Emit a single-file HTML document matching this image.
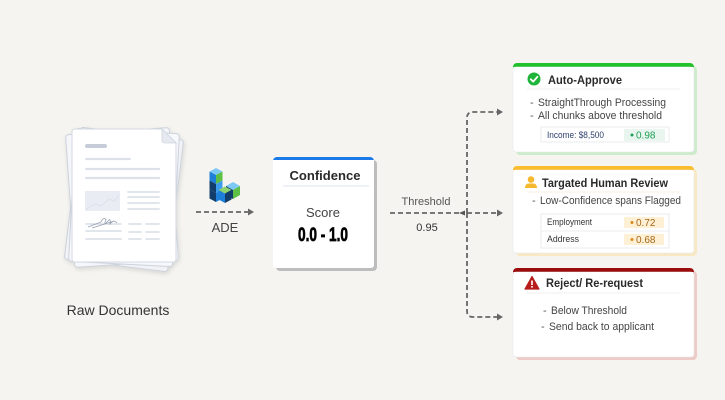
<!DOCTYPE html>
<html><head><meta charset="utf-8">
<style>
html,body{margin:0;padding:0;background:#f5f4f0;}
svg{display:block;}
text{font-family:"Liberation Sans",sans-serif;}
</style></head>
<body>
<svg width="725" height="400" viewBox="0 0 725 400" xmlns="http://www.w3.org/2000/svg">
<defs>
  <filter id="ds" x="-20%" y="-20%" width="140%" height="140%">
    <feDropShadow dx="1" dy="2" stdDeviation="2" flood-color="#000" flood-opacity="0.12"/>
  </filter>
</defs>
<rect width="725" height="400" fill="#f5f4f0"/>

<!-- Documents -->
<g filter="url(#ds)">
  <rect x="72" y="133" width="104" height="133" rx="3" fill="#f0f2f6" stroke="#ccd2dc" stroke-width="1" transform="rotate(7 124 199)"/>
  <rect x="70" y="131" width="104" height="133" rx="3" fill="#f4f6f9" stroke="#ccd2dc" stroke-width="1" transform="rotate(-4 122 197)"/>
  <rect x="72" y="131" width="104" height="133" rx="3" fill="#f7f8fb" stroke="#ccd2dc" stroke-width="1" transform="rotate(3 124 197)"/>
  <path d="M75,129 H162 L176,143 V259 Q176,262 173,262 H75 Q72,262 72,259 V132 Q72,129 75,129 Z" fill="#ffffff" stroke="#d5dae3" stroke-width="1"/>
  <path d="M162,129 V140 Q162,143 165,143 H176 Z" fill="#e6e9ef" stroke="#cfd5df" stroke-width="0.8"/>
</g>
<rect x="85" y="144" width="22" height="4" rx="2" fill="#c6cdd9"/>
<g stroke="#dde2ea" stroke-width="2.2" stroke-linecap="round">
  <line x1="86" y1="159" x2="130" y2="159"/>
  <line x1="86" y1="169" x2="159" y2="169"/>
  <line x1="86" y1="178" x2="159" y2="178"/>
</g>
<rect x="85" y="191" width="35" height="20" fill="#e9edf3"/>
<path d="M86,209 L95,204 L101,206 L109,199 L114,201 L119,195" fill="none" stroke="#dde3eb" stroke-width="1.2"/>
<g stroke="#dde2ea" stroke-width="1.8" stroke-linecap="round">
  <line x1="128" y1="192" x2="159" y2="192"/>
  <line x1="128" y1="197" x2="159" y2="197"/>
  <line x1="128" y1="203" x2="159" y2="203"/>
  <line x1="128" y1="209" x2="159" y2="209"/>
  <line x1="86" y1="224" x2="121" y2="224"/>
  <line x1="86" y1="231" x2="121" y2="231"/>
  <line x1="86" y1="239" x2="121" y2="239"/>
  <line x1="129" y1="224" x2="141" y2="224"/>
  <line x1="146" y1="224" x2="159" y2="224"/>
  <line x1="129" y1="232" x2="141" y2="232"/>
  <line x1="146" y1="232" x2="159" y2="232"/>
  <line x1="129" y1="239" x2="141" y2="239"/>
  <line x1="146" y1="239" x2="159" y2="239"/>
</g>
<path d="M88,227 Q96,224 101,222 Q104,216 106,220 Q103,226 108,221 Q111,217 110,224 Q114,219 117,223 M92,228 L114,221" fill="none" stroke="#98a1b2" stroke-width="0.8"/>
<text x="118" y="315" font-size="14" fill="#333" text-anchor="middle">Raw Documents</text>

<!-- ADE logo -->
<g>
  <!-- back right cube -->
  <polygon points="233,182 240,186 233,190 226,186" fill="#7dc8f5"/>
  <polygon points="226,186 233,190 233,199 226,195" fill="#123d6b"/>
  <polygon points="233,190 240,186 240,195 233,199" fill="#5dbf45"/>
  <!-- column -->
  <polygon points="216,168 222.5,171.5 216,175 209.5,171.5" fill="#7dc8f5"/>
  <polygon points="209.5,171.5 216,175 216,184 209.5,180.5" fill="#1e7fd9"/>
  <polygon points="216,175 222.5,171.5 222.5,180.5 216,184" fill="#5dbf45"/>
  <polygon points="209.5,180.5 216,184 216,193 209.5,189.5" fill="#123d6b"/>
  <polygon points="216,184 222.5,180.5 222.5,189.5 216,193" fill="#3d9ded"/>
  <polygon points="209.5,189.5 216,193 216,202 209.5,198.5" fill="#123d6b"/>
  <polygon points="216,193 222.5,189.5 222.5,198.5 216,202" fill="#1e7fd9"/>
  <!-- front right cube -->
  <polygon points="225,186.5 231.5,190 225,193.5 218.5,190" fill="#8fd46f"/>
  <polygon points="218.5,190 225,193.5 225,203 218.5,199.5" fill="#1e7fd9"/>
  <polygon points="225,193.5 231.5,190 231.5,199.5 225,203" fill="#123d6b"/>
</g>
<line x1="196" y1="212" x2="248" y2="212" stroke="#666" stroke-width="1.8" stroke-dasharray="5 3"/>
<polygon points="248,208.5 254,212 248,215.5" fill="#666"/>
<text x="225" y="232" font-size="13" fill="#444" text-anchor="middle">ADE</text>

<!-- Confidence card -->
<rect x="276" y="160" width="101" height="111" rx="4" fill="#bdbdbd"/>
<rect x="273" y="157" width="101" height="111" rx="4" fill="#1a7ae8"/>
<rect x="273" y="160" width="101" height="108" rx="3" fill="#ffffff"/>
<rect x="273" y="160" width="101" height="4" fill="#ffffff"/>
<text x="325" y="180" font-size="13" font-weight="bold" fill="#2a2a2a" text-anchor="middle" textLength="71" lengthAdjust="spacingAndGlyphs">Confidence</text>
<line x1="283" y1="186" x2="369" y2="186" stroke="#dde6f0" stroke-width="1"/>
<text x="323" y="217" font-size="13" fill="#444" text-anchor="middle">Score</text>
<text x="323" y="241" font-size="19" font-weight="bold" fill="#000" stroke="#000" stroke-width="0.7" text-anchor="middle" textLength="50" lengthAdjust="spacingAndGlyphs">0.0 - 1.0</text>

<!-- Threshold connectors -->
<g stroke="#666" stroke-width="1.8" stroke-dasharray="5 3" fill="none">
  <line x1="390" y1="213" x2="459" y2="213"/>
  <line x1="467" y1="213" x2="497" y2="213"/>
  <path d="M467,213 V118 Q467,112 473,112 H497"/>
  <path d="M467,213 V311 Q467,317 473,317 H497"/>
</g>
<polygon points="459,213 465,210.5 465,215.5" fill="#555"/>
<polygon points="497,108.5 503,112 497,115.5" fill="#666"/>
<polygon points="497,209.5 503,213 497,216.5" fill="#666"/>
<polygon points="497,313.5 503,317 497,320.5" fill="#666"/>
<text x="426" y="205" font-size="11" fill="#555" text-anchor="middle">Threshold</text>
<text x="427" y="231" font-size="11" fill="#333" text-anchor="middle">0.95</text>

<!-- Auto-Approve card -->
<rect x="516" y="66" width="181" height="89" rx="4" fill="#cdeccb"/>
<rect x="513" y="63" width="181" height="89" rx="4" fill="#22c02a"/>
<rect x="513" y="67" width="181" height="85" rx="3" fill="#ffffff" stroke="#e6e8ec" stroke-width="0.6"/>
<rect x="513.3" y="67" width="180.4" height="4" fill="#ffffff"/>
<circle cx="534" cy="79" r="6.5" fill="#1fb43a"/>
<path d="M530.8,79.2 L533.2,81.6 L537.4,76.8" fill="none" stroke="#fff" stroke-width="1.8" stroke-linecap="round" stroke-linejoin="round"/>
<text x="548" y="84" font-size="12" font-weight="bold" fill="#2a2a2a" textLength="74" lengthAdjust="spacingAndGlyphs">Auto-Approve</text>
<line x1="527" y1="89" x2="680" y2="89" stroke="#eef0f5" stroke-width="1"/>
<text x="530" y="106" font-size="11" fill="#555">-</text>
<text x="538" y="106" font-size="11" fill="#444" textLength="128" lengthAdjust="spacingAndGlyphs">StraightThrough Processing</text>
<text x="530" y="119" font-size="11" fill="#555">-</text>
<text x="538" y="119" font-size="11" fill="#444" textLength="124" lengthAdjust="spacingAndGlyphs">All chunks above threshold</text>
<rect x="541" y="127" width="128" height="15" fill="#ffffff" stroke="#e3e6ea" stroke-width="0.8"/>
<text x="547" y="138" font-size="9" fill="#2c3e6b" textLength="57" lengthAdjust="spacingAndGlyphs">Income: $8,500</text>
<rect x="624" y="129" width="41" height="12" fill="#e8f6ef"/>
<circle cx="632" cy="135" r="1.5" fill="#1f9d55"/>
<text x="636" y="138.5" font-size="10" fill="#1f9d55">0.98</text>

<!-- Targated Human Review card -->
<rect x="516" y="169" width="181" height="87" rx="4" fill="#f9e8c4"/>
<rect x="513" y="166" width="181" height="87" rx="4" fill="#fbbd2e"/>
<rect x="513" y="170" width="181" height="83" rx="3" fill="#ffffff" stroke="#e6e8ec" stroke-width="0.6"/>
<rect x="513.3" y="170" width="180.4" height="4" fill="#ffffff"/>
<circle cx="531" cy="179.5" r="3.3" fill="#f5b82e"/>
<path d="M525,188 Q525,183.5 529,183.5 H533 Q537,183.5 537,188 Z" fill="#f5b82e"/>
<text x="542" y="187" font-size="12" font-weight="bold" fill="#2a2a2a" textLength="126" lengthAdjust="spacingAndGlyphs">Targated Human Review</text>
<line x1="527" y1="192" x2="680" y2="192" stroke="#f7ece0" stroke-width="1"/>
<text x="532" y="204" font-size="11" fill="#555">-</text>
<text x="540" y="204" font-size="11" fill="#444" textLength="141" lengthAdjust="spacingAndGlyphs">Low-Confidence spans Flagged</text>
<rect x="541" y="214" width="128" height="34" fill="#ffffff" stroke="#e3e6ea" stroke-width="0.8"/>
<line x1="541" y1="231" x2="669" y2="231" stroke="#e3e6ea" stroke-width="0.8"/>
<text x="547" y="225" font-size="9" fill="#333" textLength="45" lengthAdjust="spacingAndGlyphs">Employment</text>
<text x="547" y="242" font-size="9" fill="#333" textLength="32" lengthAdjust="spacingAndGlyphs">Address</text>
<rect x="624" y="217" width="40" height="11" fill="#fdf0d5"/>
<circle cx="632" cy="222.5" r="1.5" fill="#d98a1a"/>
<text x="636" y="226" font-size="10" fill="#a8671a">0.72</text>
<rect x="624" y="234" width="40" height="11" fill="#fdf0d5"/>
<circle cx="632" cy="239.5" r="1.5" fill="#d98a1a"/>
<text x="636" y="243" font-size="10" fill="#a8671a">0.68</text>

<!-- Reject card -->
<rect x="516" y="271" width="181" height="89" rx="4" fill="#eccbc8"/>
<rect x="513" y="268" width="181" height="89" rx="4" fill="#9b0d0d"/>
<rect x="513" y="272" width="181" height="85" rx="3" fill="#ffffff" stroke="#e6e8ec" stroke-width="0.6"/>
<rect x="513.3" y="272" width="180.4" height="4" fill="#ffffff"/>
<path d="M532,276.5 L539,289 H525 Z" fill="#b71c1c" stroke="#b71c1c" stroke-width="1.2" stroke-linejoin="round"/>
<rect x="531.2" y="280.5" width="1.6" height="4.5" fill="#fff"/>
<rect x="531.2" y="286" width="1.6" height="1.6" fill="#fff"/>
<text x="546" y="287" font-size="12" font-weight="bold" fill="#2a2a2a" textLength="97" lengthAdjust="spacingAndGlyphs">Reject/ Re-request</text>
<line x1="527" y1="293" x2="680" y2="293" stroke="#f3eeee" stroke-width="1"/>
<text x="543" y="314" font-size="11" fill="#555">-</text>
<text x="551" y="314" font-size="11" fill="#444" textLength="76" lengthAdjust="spacingAndGlyphs">Below Threshold</text>
<text x="541" y="330" font-size="11" fill="#555">-</text>
<text x="549" y="330" font-size="11" fill="#444" textLength="105" lengthAdjust="spacingAndGlyphs">Send back to applicant</text>
</svg>
</body></html>
